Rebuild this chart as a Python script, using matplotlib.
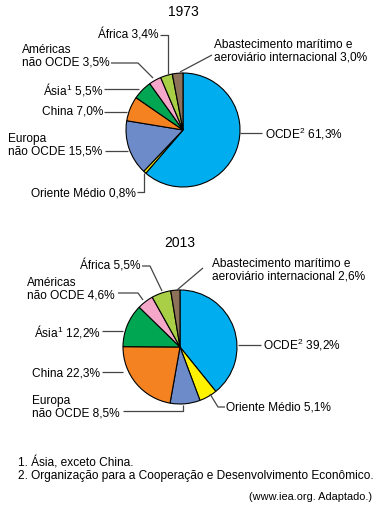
import matplotlib.pyplot as plt

plt.rcParams['font.family'] = ['Liberation Sans', 'DejaVu Sans']
plt.rcParams['mathtext.default'] = 'regular'

# regions in clockwise order starting at 12 o'clock
regions = ['OCDE$^2$', 'Oriente Médio', 'Europa\nnão OCDE', 'China', 'Ásia$^1$',
           'Américas\nnão OCDE', 'África',
           'Abastecimento marítimo e\naeroviário internacional']
values_1973 = [61.3, 0.8, 15.5, 7.0, 5.5, 3.5, 3.4, 3.0]
values_2013 = [39.2, 5.1, 8.5, 22.3, 12.2, 4.6, 5.5, 2.6]
colors = ['#00aeef', '#fff200', '#6e8bc9', '#f58220', '#00a651',
          '#f4a7c9', '#a8cf45', '#8c7259']

W, H = 388, 516
fig = plt.figure(figsize=(W / 100, H / 100), dpi=100)
ax = fig.add_axes([0, 0, 1, 1])

FS = 8.6


def Y(y):
    # pixel row (top down) -> axis y (bottom up)
    return H - y


def label(name, v):
    return '%s %s%%' % (name, ('%.1f' % v).replace('.', ','))


# label layout: (x, y, ha) and leader path in pixel coords
layout_1973 = [
    ((265, 134, 'left'), [(240, 133), (262, 133)]),
    ((136, 193, 'right'), [(137, 192), (144, 192), (144, 173)]),
    ((8, 145, 'left'), [(105, 151), (128, 151)]),
    ((103, 112, 'right'), [(104, 112), (127, 112)]),
    ((103, 89, 'right'), [(104, 89), (139, 89)]),
    ((22, 56, 'left'), [(111, 63), (138, 63), (153, 78)]),
    ((159, 35, 'right'), [(160, 35), (168, 35), (168, 75)]),
    ((214, 51.5, 'left'), [(212, 55), (180, 72)]),
]
layout_2013 = [
    ((263, 345, 'left'), [(238, 345), (261, 345)]),
    ((226, 408, 'left'), [(225, 407), (218, 407), (210, 394)]),
    ((32, 407.5, 'left'), [(123, 411), (183, 411), (183, 405)]),
    ((100, 373, 'right'), [(102, 372), (123, 372)]),
    ((101, 331, 'right'), [(102, 331), (123, 331)]),
    ((27, 289, 'left'), [(118, 293), (138, 293), (143, 300)]),
    ((140, 266, 'right'), [(142, 266), (150, 266), (162, 291)]),
    ((212, 270, 'left'), [(203, 268), (177, 290)]),
]


def draw(values, cx, cy, title, ty, layout):
    ax.pie(values, colors=colors, startangle=90, counterclock=False,
           center=(cx, Y(cy)), radius=57, frame=True,
           wedgeprops={'edgecolor': 'black', 'linewidth': 0.8})
    ax.text(cx, Y(ty), title, ha='center', va='center', fontsize=10)
    for name, v, ((tx, tyl, ha), path) in zip(regions, values, layout):
        ax.text(tx, Y(tyl), label(name, v), ha=ha, va='center', fontsize=FS,
                linespacing=1.05, multialignment='left')
        ax.plot([p[0] for p in path], [Y(p[1]) for p in path],
                color='#444444', lw=0.9, solid_capstyle='butt')


draw(values_1973, 183, 130, '1973', 12, layout_1973)
draw(values_2013, 180, 347, '2013', 243, layout_2013)

ax.text(18, Y(463), '1. Ásia, exceto China.', ha='left', va='center', fontsize=FS)
ax.text(18, Y(476), '2. Organização para a Cooperação e Desenvolvimento Econômico.',
        ha='left', va='center', fontsize=FS)
ax.text(372, Y(497), '(www.iea.org. Adaptado.)', ha='right', va='center',
        fontsize=7.9)

ax.set_xlim(0, W)
ax.set_ylim(0, H)
ax.set_aspect('equal')
ax.axis('off')

plt.savefig('out.png', dpi=100)
